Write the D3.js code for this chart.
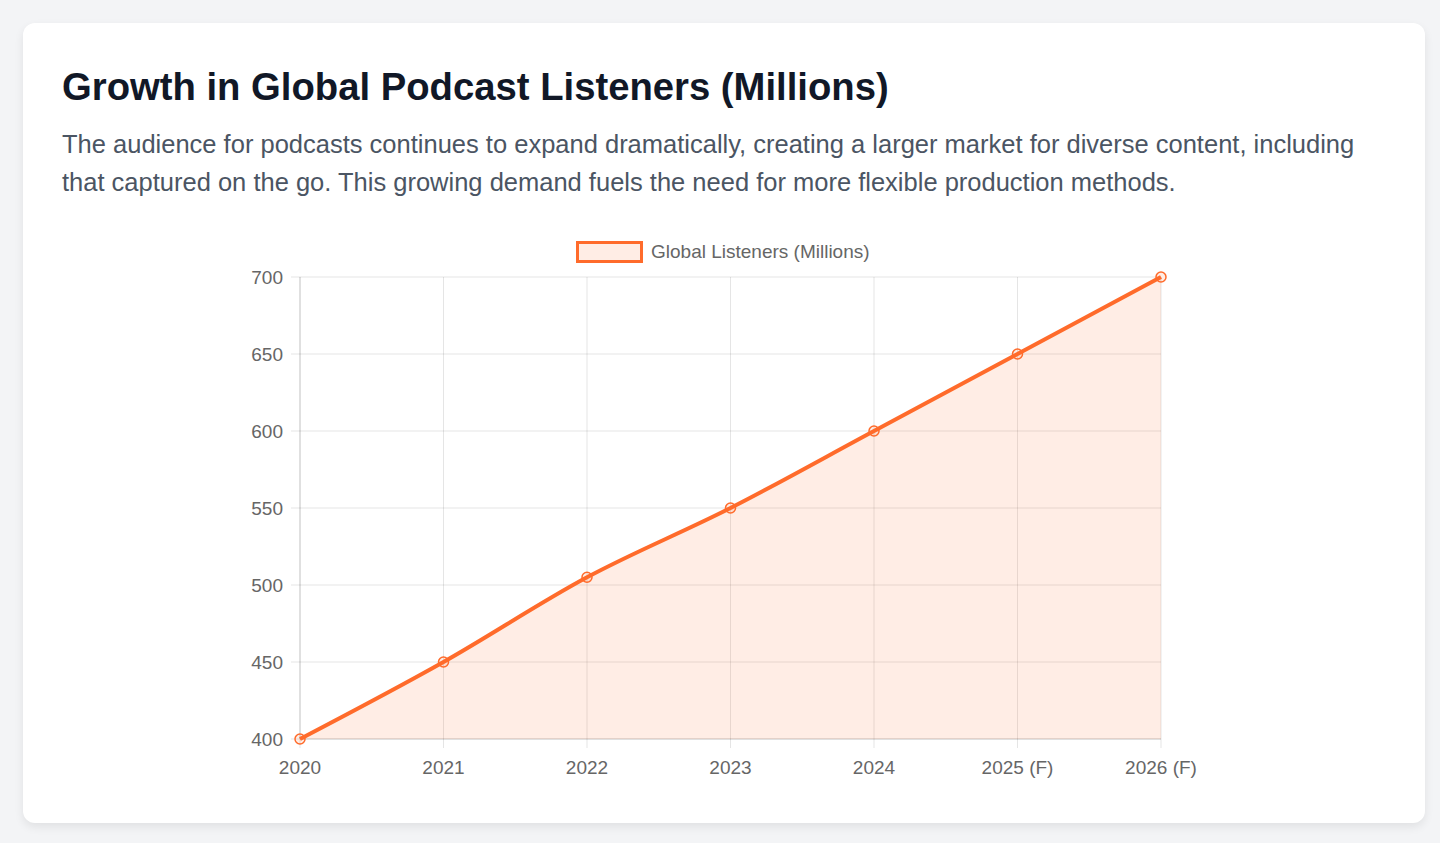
<!DOCTYPE html>
<html>
<head>
<meta charset="utf-8">
<script src="https://cdn.jsdelivr.net/npm/d3@7"></script>
<style>
  body { margin: 0; background: #f3f4f6; font-family: "Liberation Sans", Arial, sans-serif; }
  .card {
    position: absolute; left: 23px; top: 23px; width: 1402px; height: 800px;
    background: #fff; border-radius: 12px; box-shadow: 0 4px 10px rgba(0,0,0,0.08);
  }
  h1 { position: absolute; left: 39px; top: 42px; margin: 0; font-size: 38.25px; font-weight: bold; color: #111827; }
  p { position: absolute; left: 39px; top: 102px; width: 1330px; margin: 0; font-size: 25.5px; line-height: 38px; color: #4b5563; }
  svg { position: absolute; left: 0; top: 0; }
</style>
</head>
<body>
<div class="card">
  <h1>Growth in Global Podcast Listeners (Millions)</h1>
  <p>The audience for podcasts continues to expand dramatically, creating a larger market for diverse content, including that captured on the go. This growing demand fuels the need for more flexible production methods.</p>
</div>
<script>
var years = ["2020", "2021", "2022", "2023", "2024", "2025 (F)", "2026 (F)"];
var listeners = [400, 450, 505, 550, 600, 650, 700];
var yTicks = [400, 450, 500, 550, 600, 650, 700];
var seriesName = "Global Listeners (Millions)";

var width = 1440, height = 843;
var orange = "#ff6b2b";

var svg = d3.select("body").append("svg")
    .attr("width", width)
    .attr("height", height);

var x = d3.scalePoint().domain(years).range([300, 1161]);
var y = d3.scaleLinear().domain([400, 700]).range([739, 277]);

// grid lines
svg.append("g")
    .selectAll("line")
    .data(yTicks)
    .enter()
    .append("line")
    .attr("x1", 291).attr("x2", 1161)
    .attr("y1", function(d) { return y(d); })
    .attr("y2", function(d) { return y(d); })
    .attr("stroke", "rgba(0,0,0,0.1)");

svg.append("g")
    .selectAll("line")
    .data(years)
    .enter()
    .append("line")
    .attr("y1", 277).attr("y2", 748)
    .attr("x1", function(d) { return x(d); })
    .attr("x2", function(d) { return x(d); })
    .attr("stroke", "rgba(0,0,0,0.1)");

// axis borders
svg.append("line").attr("x1", 300).attr("x2", 300).attr("y1", 277).attr("y2", 739)
    .attr("stroke", "rgba(0,0,0,0.15)");
svg.append("line").attr("x1", 300).attr("x2", 1161).attr("y1", 739).attr("y2", 739)
    .attr("stroke", "rgba(0,0,0,0.15)");

// tick labels
svg.append("g")
    .selectAll("text")
    .data(yTicks)
    .enter()
    .append("text")
    .attr("x", 283)
    .attr("y", function(d) { return y(d); })
    .attr("dy", "0.35em")
    .attr("text-anchor", "end")
    .attr("font-size", 19)
    .attr("fill", "#666")
    .text(function(d) { return d; });

svg.append("g")
    .selectAll("text")
    .data(years)
    .enter()
    .append("text")
    .attr("x", function(d) { return x(d); })
    .attr("y", 767)
    .attr("dy", "0.35em")
    .attr("text-anchor", "middle")
    .attr("font-size", 19)
    .attr("fill", "#666")
    .text(function(d) { return d; });

var pts = years.map(function(d, i) { return [x(d), y(listeners[i])]; });

// area fill
svg.append("path")
    .datum(pts)
    .attr("d", d3.area()
        .x(function(d) { return d[0]; })
        .y0(739)
        .y1(function(d) { return d[1]; })
        .curve(d3.curveMonotoneX))
    .attr("fill", "rgba(255,107,43,0.12)");

// line
svg.append("path")
    .datum(pts)
    .attr("d", d3.line()
        .x(function(d) { return d[0]; })
        .y(function(d) { return d[1]; })
        .curve(d3.curveMonotoneX))
    .attr("fill", "none")
    .attr("stroke", orange)
    .attr("stroke-width", 4);

// points
svg.append("g")
    .selectAll("circle")
    .data(pts)
    .enter()
    .append("circle")
    .attr("cx", function(d) { return d[0]; })
    .attr("cy", function(d) { return d[1]; })
    .attr("r", 5)
    .attr("fill", "rgba(255,107,43,0.12)")
    .attr("stroke", orange)
    .attr("stroke-width", 1.5);

// legend
svg.append("rect")
    .attr("x", 577.5).attr("y", 242.5)
    .attr("width", 64).attr("height", 19)
    .attr("fill", "rgba(255,107,43,0.12)")
    .attr("stroke", orange)
    .attr("stroke-width", 3);
svg.append("text")
    .attr("x", 651).attr("y", 251)
    .attr("dy", "0.35em")
    .attr("font-size", 19)
    .attr("fill", "#666")
    .text(seriesName);
</script>
</body>
</html>
